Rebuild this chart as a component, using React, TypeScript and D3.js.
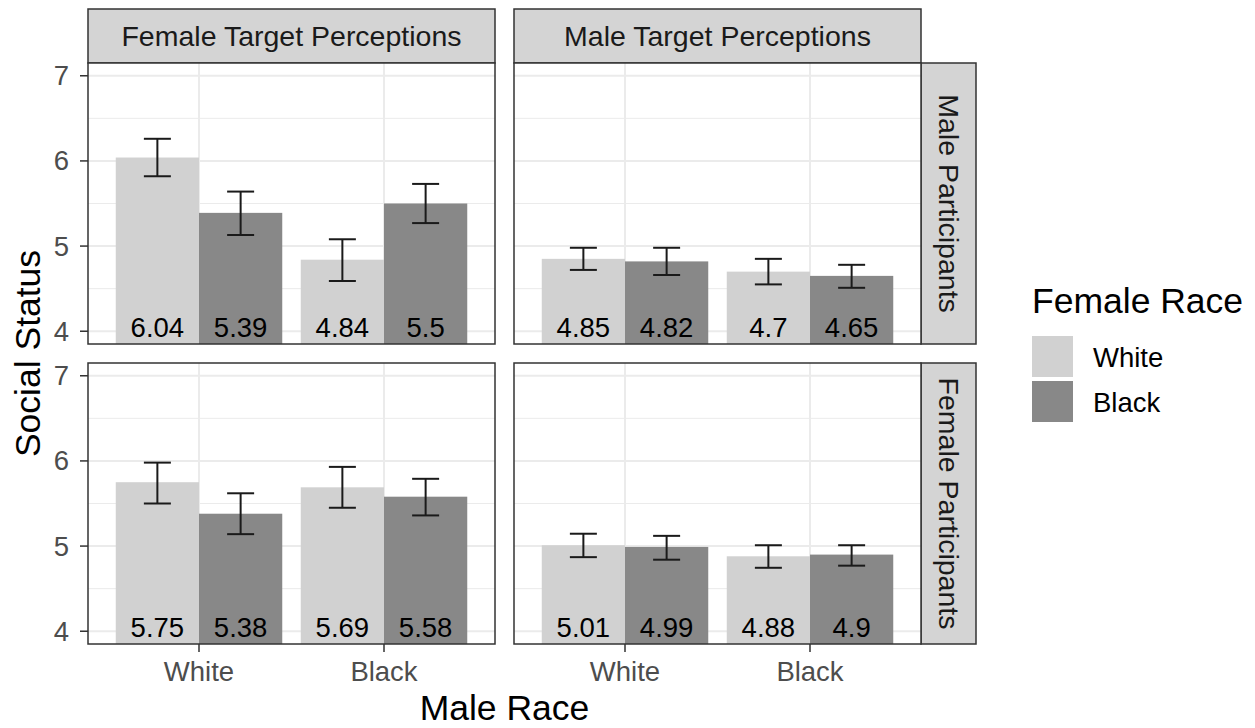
import React from 'react';
import * as d3 from 'd3';

const W = 1255;
const H = 728;

// facets
const targetCols = ['Female Target Perceptions', 'Male Target Perceptions'];
const participantRows = ['Male Participants', 'Female Participants'];
const maleRaces = ['White', 'Black'];
const femaleRaces = ['White', 'Black'];
const yTicks = [4, 5, 6, 7];
const yMinor = [4.5, 5.5, 6.5];

// means, order: (male White, female White), (White, Black), (Black, White), (Black, Black)
const meansMaleFemaleTarget = [6.04, 5.39, 4.84, 5.5];
const meansMaleMaleTarget = [4.85, 4.82, 4.7, 4.65];
const meansFemaleFemaleTarget = [5.75, 5.38, 5.69, 5.58];
const meansFemaleMaleTarget = [5.01, 4.99, 4.88, 4.9];

// error bar ends
const lowMaleFemaleTarget = [5.82, 5.13, 4.59, 5.27];
const highMaleFemaleTarget = [6.26, 5.64, 5.08, 5.73];
const lowMaleMaleTarget = [4.72, 4.66, 4.55, 4.51];
const highMaleMaleTarget = [4.98, 4.98, 4.85, 4.78];
const lowFemaleFemaleTarget = [5.5, 5.14, 5.45, 5.36];
const highFemaleFemaleTarget = [5.98, 5.62, 5.93, 5.79];
const lowFemaleMaleTarget = [4.87, 4.84, 4.745, 4.77];
const highFemaleMaleTarget = [5.145, 5.12, 5.01, 5.01];

const panelMeans = [[meansMaleFemaleTarget, meansMaleMaleTarget], [meansFemaleFemaleTarget, meansFemaleMaleTarget]];
const panelLow = [[lowMaleFemaleTarget, lowMaleMaleTarget], [lowFemaleFemaleTarget, lowFemaleMaleTarget]];
const panelHigh = [[highMaleFemaleTarget, highMaleMaleTarget], [highFemaleFemaleTarget, highFemaleMaleTarget]];

const fillColors = ['#D1D1D1', '#888888'];
const font = 'Liberation Sans, Arial, Helvetica, sans-serif';

const panelLefts = [88, 514];
const panelW = 407;
const panelTops = [63, 363];
const panelH = 281;
const stripH = 54;
const stripW = 55;

const yScale = d3.scaleLinear().domain([3.85, 7.15]).range([panelH, 0]);
// discrete x: categories with 0.6 expansion on each side
const xCenter = d3.scalePoint().domain(maleRaces).range([0, panelW]).padding(0.6);
const inner = d3.scaleBand().domain(femaleRaces).range([-0.45, 0.45]);
const unitPx = panelW / 2.2;

function Panel({ r, c }: { r: number; c: number }) {
  const means = panelMeans[r][c];
  const lo = panelLow[r][c];
  const hi = panelHigh[r][c];
  const bars: any[] = [];
  maleRaces.forEach((m, i) => {
    femaleRaces.forEach((f, j) => {
      const k = i * 2 + j;
      const x0 = xCenter(m)! + inner(f)! * unitPx;
      const bw = inner.bandwidth() * unitPx;
      bars.push({ k, x0, bw, f: j, v: means[k], lo: lo[k], hi: hi[k] });
    });
  });
  const capHalf = 13.5;
  return (
    <g transform={`translate(${panelLefts[c]},${panelTops[r]})`}>
      <rect width={panelW} height={panelH} fill="#fff" />
      {yMinor.map((t) => (
        <line key={'mn' + t} x1={0} x2={panelW} y1={yScale(t)} y2={yScale(t)} stroke="#EBEBEB" strokeWidth={1} />
      ))}
      {yTicks.map((t) => (
        <line key={'mj' + t} x1={0} x2={panelW} y1={yScale(t)} y2={yScale(t)} stroke="#EBEBEB" strokeWidth={2} />
      ))}
      {maleRaces.map((m) => (
        <line key={'v' + m} x1={xCenter(m)} x2={xCenter(m)} y1={0} y2={panelH} stroke="#EBEBEB" strokeWidth={2} />
      ))}
      {bars.map((b) => (
        <rect key={'b' + b.k} x={b.x0} width={b.bw} y={yScale(b.v)} height={panelH - yScale(b.v)} fill={fillColors[b.f]} />
      ))}
      {bars.map((b) => {
        const cx = b.x0 + b.bw / 2;
        return (
          <g key={'e' + b.k} stroke="#1a1a1a" strokeWidth={2} fill="none">
            <line x1={cx} x2={cx} y1={yScale(b.hi)} y2={yScale(b.lo)} />
            <line x1={cx - capHalf} x2={cx + capHalf} y1={yScale(b.hi)} y2={yScale(b.hi)} />
            <line x1={cx - capHalf} x2={cx + capHalf} y1={yScale(b.lo)} y2={yScale(b.lo)} />
          </g>
        );
      })}
      {bars.map((b) => (
        <text key={'t' + b.k} x={b.x0 + b.bw / 2} y={yScale(4) + 6} textAnchor="middle"
          fontSize={27.5} fill="#000" fontFamily={font}>
          {String(b.v)}
        </text>
      ))}
      <rect width={panelW} height={panelH} fill="none" stroke="#333" strokeWidth={1.5} />
    </g>
  );
}

export default function App() {
  return (
    <svg width={W} height={H} style={{ position: 'absolute', left: 0, top: 0, background: '#fff' }} fontFamily={font}>
      <rect width={W} height={H} fill="#fff" />
      {/* top strips */}
      {targetCols.map((t, c) => (
        <g key={t} transform={`translate(${panelLefts[c]},${panelTops[0] - stripH})`}>
          <rect width={panelW} height={stripH} fill="#D4D4D4" stroke="#333" strokeWidth={1.5} />
          <text x={panelW / 2} y={stripH / 2 + 10} textAnchor="middle" fontSize={28.5} fill="#1A1A1A">{t}</text>
        </g>
      ))}
      {/* right strips */}
      {participantRows.map((p, r) => (
        <g key={p} transform={`translate(${panelLefts[1] + panelW},${panelTops[r]})`}>
          <rect width={stripW} height={panelH} fill="#D4D4D4" stroke="#333" strokeWidth={1.5} />
          <text transform={`translate(${stripW / 2 - 10},${panelH / 2}) rotate(90)`} textAnchor="middle" fontSize={28.5} fill="#1A1A1A">{p}</text>
        </g>
      ))}
      {participantRows.map((p, r) => targetCols.map((t, c) => <Panel key={p + t} r={r} c={c} />))}
      {/* y axes */}
      {panelTops.map((top, r) => (
        <g key={'ya' + r} transform={`translate(${panelLefts[0]},${top})`}>
          {yTicks.map((t) => (
            <g key={t}>
              <line x1={-8} x2={0} y1={yScale(t)} y2={yScale(t)} stroke="#333" strokeWidth={1.5} />
              <text x={-19} y={yScale(t) + 9.5} textAnchor="end" fontSize={27.5} fill="#4D4D4D">{t}</text>
            </g>
          ))}
        </g>
      ))}
      {/* x axes */}
      {panelLefts.map((left, c) => (
        <g key={'xa' + c} transform={`translate(${left},${panelTops[1] + panelH})`}>
          {maleRaces.map((m) => (
            <g key={m}>
              <line x1={xCenter(m)} x2={xCenter(m)} y1={0} y2={8} stroke="#333" strokeWidth={1.5} />
              <text x={xCenter(m)} y={37} textAnchor="middle" fontSize={27.5} fill="#4D4D4D">{m}</text>
            </g>
          ))}
        </g>
      ))}
      {/* axis titles */}
      <text x={(panelLefts[0] + panelLefts[1] + panelW) / 2} y={720} textAnchor="middle" fontSize={35.5} fill="#000">Male Race</text>
      <text transform={`translate(40,${(panelTops[0] + panelTops[1] + panelH) / 2}) rotate(-90)`} textAnchor="middle" fontSize={35.5} fill="#000">Social Status</text>
      {/* legend */}
      <text x={1032} y={313} fontSize={35.5} fill="#000">Female Race</text>
      {femaleRaces.map((f, j) => (
        <g key={'lg' + f} transform={`translate(1032,${336 + j * 45})`}>
          <rect width={41} height={41} fill={fillColors[j]} />
          <text x={61} y={31} fontSize={27.5} fill="#000">{f}</text>
        </g>
      ))}
    </svg>
  );
}
